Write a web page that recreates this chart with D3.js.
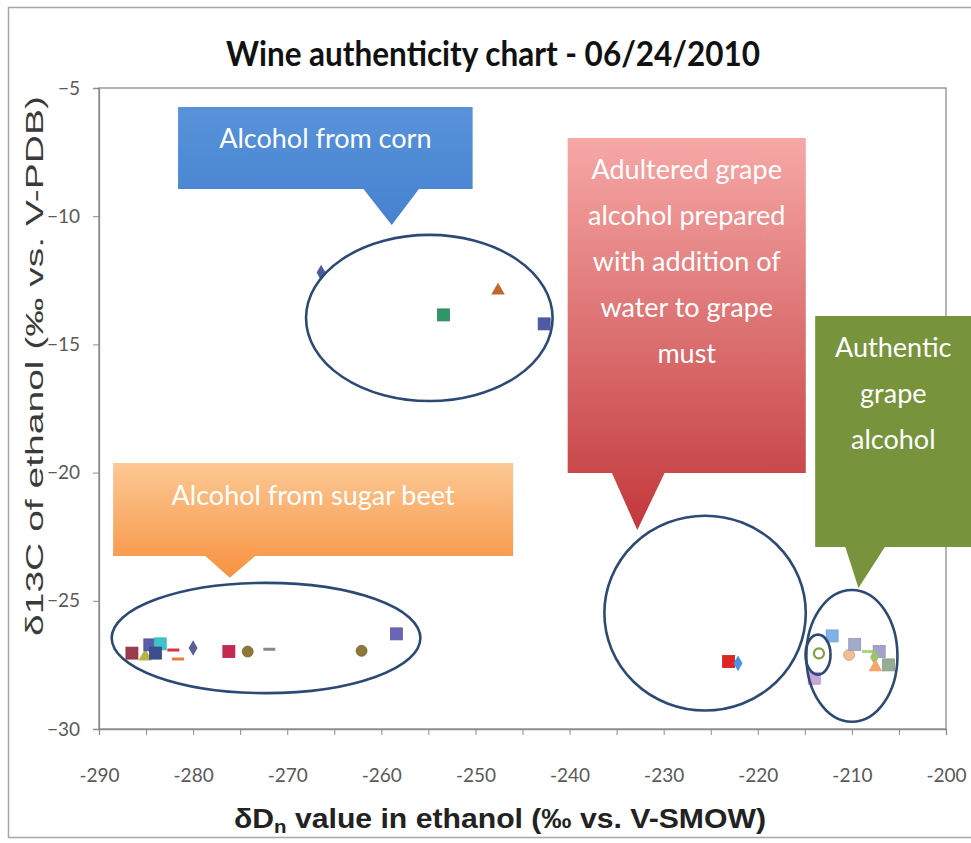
<!DOCTYPE html>
<html>
<head>
<meta charset="utf-8">
<script src="https://cdn.jsdelivr.net/npm/d3@7"></script>
<style>
  html, body { margin: 0; padding: 0; background: #fff; }
  svg { display: block; }
</style>
</head>
<body>
<svg id="chart" width="971" height="843"></svg>
<script>
// ---------------- DATA ----------------
const chartTitle = "Wine authenticity chart - 06/24/2010";
const xTickValues = [-290, -280, -270, -260, -250, -240, -230, -220, -210, -200];
const yTickValues = [-5, -10, -15, -20, -25, -30];

// δDn (x) and δ13C (y) of each sample
const dDValues = [
  // corn
  -266.4, -253.4, -247.6, -242.7,
  // sugar beet
  -286.5, -285.1, -284.6, -283.5, -284.0, -282.1, -281.6, -280.0, -276.2, -274.2, -271.9, -262.1, -258.4,
  // adulterated
  -223.1, -222.1,
  // authentic
  -212.1, -213.5, -214.0, -210.3, -209.7, -208.3, -207.1, -207.6, -207.5, -206.1
];
const d13CValues = [
  -12.2, -13.85, -12.9, -14.2,
  -27.04, -27.18, -26.72, -26.68, -27.04, -26.92, -27.27, -26.84, -26.98, -26.98, -26.89, -26.95, -26.29,
  -27.37, -27.44,
  -26.37, -27.05, -28.02, -27.11, -26.70, -26.98, -26.98, -27.2, -27.59, -27.5
];
const markerShapes = [
  "diamond", "square", "triangle", "square",
  "square", "triangle", "square", "square", "square", "dash", "dash", "diamond", "square", "circle", "dash", "circle", "square",
  "square", "diamond",
  "square", "circleOpen", "square", "circle", "square", "dash", "square", "diamond", "triangle", "square"
];
const markerColors = [
  "#4a5c9e", "#2e9668", "#c0682c", "#4d5ba4",
  "#9b3a4c", "#b8b440", "#5a5cac", "#3ec4c8", "#3b4f8c", "#d8343a", "#f07a3a", "#5c5e94", "#c42a50", "#8c7838", "#8a8a80", "#8c7838", "#6a64b4",
  "#e02424", "#4a92e4",
  "#80b2ea", "#7aa23e", "#caa6d8", "#f2bc94", "#a2aacc", "#aed27a", "#a4a2cc", "#9cc46c", "#f8a468", "#96ac94"
];

// group ellipses (data units): centre x, centre y, radius x, radius y
const ellipseCx = [-254.9, -272.25, -225.6, -210.0, -213.6];
const ellipseCy = [-13.97, -26.45, -25.48, -27.15, -27.1];
const ellipseRx = [13.1, 16.4, 10.7, 4.84, 1.33];
const ellipseRy = [3.24, 2.15, 3.8, 2.57, 0.78];

// callouts (data units): box left, right, top, bottom, pointer base left, right, tip x, tip y
const calloutTexts = [
  ["Alcohol from corn"],
  ["Adultered grape", "alcohol prepared", "with addition of", "water to grape", "must"],
  ["Authentic", "grape", "alcohol"],
  ["Alcohol from sugar beet"]
];
const calloutLeft   = [-281.6, -240.2, -213.9, -288.5];
const calloutRight  = [-250.3, -214.9, -197.3, -246.0];
const calloutTop    = [-5.74, -6.95, -13.89, -19.63];
const calloutBottom = [-8.94, -20.02, -22.9, -23.25];
const pointerLeft   = [-261.9, -235.5, -210.7, -278.7];
const pointerRight  = [-256.0, -229.9, -206.5, -273.4];
const pointerTipX   = [-258.9, -232.8, -209.3, -276.1];
const pointerTipY   = [-10.34, -22.24, -24.5, -24.1];
const calloutFills  = ["url(#gBlue)", "url(#gRed)", "#77933c", "url(#gOrange)"];

// ---------------- CHART ----------------
const svg = d3.select("#chart");
const plot = { left: 99, right: 946, top: 88, bottom: 729 };

const x = d3.scaleLinear().domain([-290, -200]).range([plot.left, plot.right]);
const y = d3.scaleLinear().domain([-30, -5]).range([plot.bottom, plot.top]);

// gradients
const defs = svg.append("defs");
function grad(id, c1, c2) {
  const g = defs.append("linearGradient").attr("id", id)
    .attr("x1", 0).attr("y1", 0).attr("x2", 0).attr("y2", 1);
  g.append("stop").attr("offset", "0%").attr("stop-color", c1);
  g.append("stop").attr("offset", "100%").attr("stop-color", c2);
}
grad("gRed", "#f6a8a6", "#c2383b");
grad("gOrange", "#fcc894", "#f79240");
grad("gBlue", "#5792da", "#4782d0");

// outer chart border
svg.append("rect").attr("x", 8.5).attr("y", 7.5).attr("width", 990).attr("height", 830)
  .attr("fill", "none").attr("stroke", "#a6a6a6").attr("stroke-width", 1.5);

// title
svg.append("text").attr("x", 493).attr("y", 66)
  .attr("text-anchor", "middle")
  .attr("font-family", "Lato, 'Open Sans', sans-serif")
  .attr("font-weight", "bold").attr("font-size", 34)
  .attr("textLength", 534).attr("lengthAdjust", "spacingAndGlyphs")
  .attr("fill", "#111").text(chartTitle);

// plot frame
svg.append("rect").attr("x", plot.left).attr("y", plot.top)
  .attr("width", plot.right - plot.left).attr("height", plot.bottom - plot.top)
  .attr("fill", "none").attr("stroke", "#8c8c8c").attr("stroke-width", 1.3);

// axes
const xAxis = d3.axisBottom(x).tickValues(d3.range(-290, -199, 5)).tickSize(6)
  .tickFormat(d => xTickValues.includes(d) ? d : "");
const gx = svg.append("g").attr("transform", `translate(0,${plot.bottom})`).call(xAxis);
gx.select(".domain").attr("stroke", "#8c8c8c").attr("stroke-width", 1.3);
gx.selectAll(".tick line").attr("stroke", "#8c8c8c");
gx.selectAll(".tick text").attr("font-family", "Lato, sans-serif").attr("font-size", 19)
  .attr("fill", "#595959").attr("y", 46).attr("dy", "0.35em");

const yAxis = d3.axisLeft(y).tickValues(yTickValues).tickSize(6);
const gy = svg.append("g").attr("transform", `translate(${plot.left},0)`).call(yAxis);
gy.select(".domain").attr("stroke", "#8c8c8c").attr("stroke-width", 1.3);
gy.selectAll(".tick line").attr("stroke", "#8c8c8c");
gy.selectAll(".tick text").attr("font-family", "Lato, sans-serif").attr("font-size", 19)
  .attr("fill", "#595959").attr("x", -19);

// axis titles
const xl = svg.append("text").attr("x", 500).attr("y", 828)
  .attr("text-anchor", "middle")
  .attr("font-family", "'Liberation Sans', Arial, sans-serif")
  .attr("font-weight", "bold").attr("font-size", 28).attr("fill", "#222")
  .attr("textLength", 532).attr("lengthAdjust", "spacingAndGlyphs");
xl.append("tspan").text("δD");
xl.append("tspan").attr("font-size", 19).attr("dy", 5).text("n");
xl.append("tspan").attr("dy", -5).text(" value in ethanol (‰ vs. V-SMOW)");

svg.append("text")
  .attr("transform", "translate(43,366) rotate(-90)")
  .attr("text-anchor", "middle")
  .attr("font-family", "'Liberation Sans', Arial, sans-serif")
  .attr("font-size", 23).attr("fill", "#3a3a3a")
  .attr("textLength", 540).attr("lengthAdjust", "spacingAndGlyphs")
  .text("δ13C  of ethanol (‰ vs. V-PDB)");

// markers
const pts = dDValues.map((d, i) => ({ x: d, y: d13CValues[i], s: markerShapes[i], c: markerColors[i] }));
const mg = svg.append("g");
pts.forEach(p => {
  const cx = x(p.x), cy = y(p.y);
  if (p.s === "square") {
    mg.append("rect").attr("x", cx - 6).attr("y", cy - 6).attr("width", 12).attr("height", 12)
      .attr("fill", p.c).attr("stroke", d3.color(p.c).darker(0.3)).attr("stroke-width", 0.8);
  } else if (p.s === "diamond") {
    mg.append("path").attr("d", d3.symbol(d3.symbolDiamond, 70)())
      .attr("transform", `translate(${cx},${cy})`).attr("fill", p.c);
  } else if (p.s === "triangle") {
    mg.append("path").attr("d", d3.symbol(d3.symbolTriangle, 80)())
      .attr("transform", `translate(${cx},${cy})`).attr("fill", p.c);
  } else if (p.s === "circle") {
    mg.append("circle").attr("cx", cx).attr("cy", cy).attr("r", 5.5)
      .attr("fill", p.c).attr("stroke", d3.color(p.c).darker(0.4)).attr("stroke-width", 0.8);
  } else if (p.s === "circleOpen") {
    mg.append("circle").attr("cx", cx).attr("cy", cy).attr("r", 5)
      .attr("fill", "#fff").attr("stroke", p.c).attr("stroke-width", 2.2);
  } else if (p.s === "dash") {
    mg.append("rect").attr("x", cx - 6).attr("y", cy - 1.5).attr("width", 12).attr("height", 3)
      .attr("fill", p.c);
  }
});

// ellipses
const eg = svg.append("g");
ellipseCx.forEach((c, i) => {
  const cx = x(c), cy = y(ellipseCy[i]);
  const rx = x(c + ellipseRx[i]) - cx;
  const ry = cy - y(ellipseCy[i] + ellipseRy[i]);
  eg.append("ellipse").attr("cx", cx).attr("cy", cy).attr("rx", rx).attr("ry", ry)
    .attr("fill", "none").attr("stroke", "#2d4a74").attr("stroke-width", 2.6);
});

// callouts
const cg = svg.append("g");
calloutTexts.forEach((lines, i) => {
  const L = x(calloutLeft[i]), R = x(calloutRight[i]);
  const T = y(calloutTop[i]), B = y(calloutBottom[i]);
  const pl = x(pointerLeft[i]), pr = x(pointerRight[i]);
  const tx = x(pointerTipX[i]), ty = y(pointerTipY[i]);
  const path = d3.path();
  path.moveTo(L, T); path.lineTo(R, T); path.lineTo(R, B);
  path.lineTo(pr, B); path.lineTo(tx, ty); path.lineTo(pl, B);
  path.lineTo(L, B); path.closePath();
  cg.append("path").attr("d", path.toString()).attr("fill", calloutFills[i]);
  const cxm = (L + R) / 2;
  lines.forEach((t, j) => {
    cg.append("text").attr("x", cxm).attr("y", T + 31 + j * 46)
      .attr("text-anchor", "middle").attr("dominant-baseline", "central")
      .attr("font-family", "Lato, 'Open Sans', sans-serif")
      .attr("font-size", 27).attr("fill", "#fff")
      .text(t);
  });
});
</script>
</body>
</html>
